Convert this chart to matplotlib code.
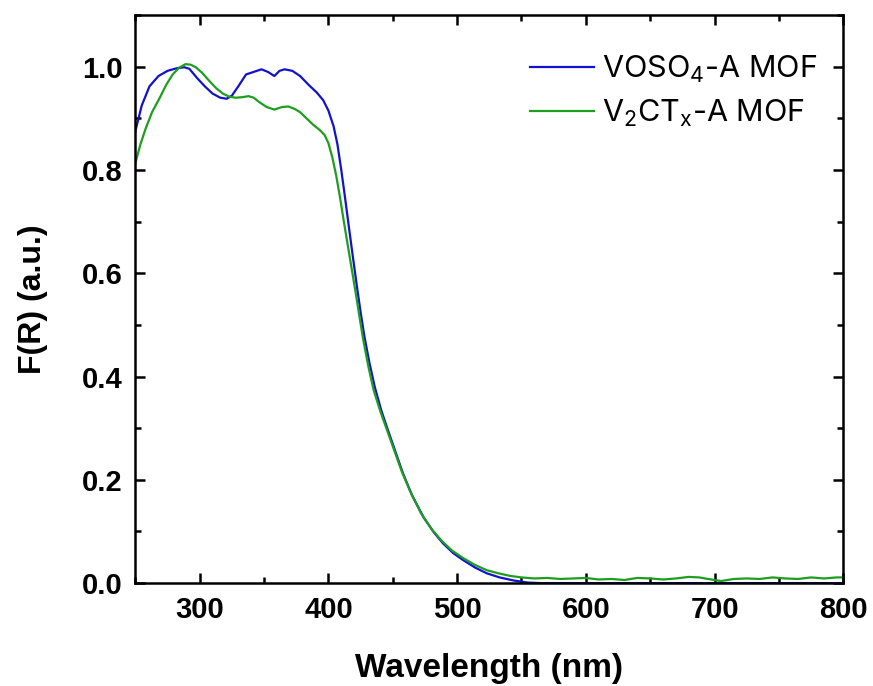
import matplotlib
matplotlib.use("Agg")
import matplotlib.pyplot as plt
from matplotlib.ticker import MultipleLocator

# DRS spectra, Kubelka-Munk F(R), normalised
wl_voso4 = [250, 255, 261, 268, 275, 282, 288, 292, 298, 304, 310, 316, 321, 325,
            330, 336, 342, 348, 353, 358, 362, 366, 372, 378, 385, 391, 396, 400,
            404, 407, 410, 413, 416, 419, 422, 425, 428, 432, 436, 441, 446, 452,
            458, 465, 474, 482, 489, 497, 505, 514, 523, 533, 544, 555, 565, 600,
            700, 800]
fr_voso4 = [0.875, 0.925, 0.962, 0.982, 0.992, 0.997, 0.999, 0.996, 0.978, 0.962,
            0.948, 0.940, 0.938, 0.944, 0.962, 0.985, 0.990, 0.995, 0.990, 0.982,
            0.992, 0.995, 0.992, 0.982, 0.964, 0.950, 0.935, 0.915, 0.885, 0.850,
            0.800, 0.745, 0.688, 0.632, 0.577, 0.525, 0.477, 0.425, 0.380, 0.335,
            0.298, 0.255, 0.212, 0.170, 0.127, 0.098, 0.077, 0.058, 0.044, 0.030,
            0.019, 0.011, 0.005, 0.001, 0.0, 0.0, 0.0, 0.0]

wl_v2ctx = [250, 254, 258, 263, 269, 274, 279, 284, 289, 293, 297, 302, 308, 313,
            318, 323, 328, 333, 338, 342, 346, 352, 358, 364, 369, 374, 378, 383,
            388, 393, 397, 400, 403, 406, 409, 412, 415, 418, 421, 424, 427, 431,
            435, 440, 445, 451, 457, 464, 472, 480, 488, 496, 505, 514, 523, 532,
            541, 550, 560, 570, 580, 590, 600, 610, 620, 630, 640, 650, 660, 670,
            680, 688, 695, 705, 715, 725, 735, 745, 755, 765, 775, 785, 795, 800]
fr_v2ctx = [0.813, 0.850, 0.880, 0.912, 0.940, 0.965, 0.985, 0.998, 1.005, 1.004,
            0.999, 0.988, 0.971, 0.958, 0.948, 0.942, 0.940, 0.941, 0.943, 0.940,
            0.932, 0.922, 0.917, 0.922, 0.923, 0.918, 0.912, 0.900, 0.888, 0.878,
            0.868, 0.852, 0.825, 0.790, 0.747, 0.700, 0.655, 0.610, 0.565, 0.518,
            0.472, 0.420, 0.375, 0.335, 0.300, 0.258, 0.216, 0.175, 0.135, 0.105,
            0.082, 0.063, 0.048, 0.035, 0.025, 0.019, 0.014, 0.011, 0.009, 0.010,
            0.008, 0.009, 0.010, 0.007, 0.008, 0.006, 0.010, 0.009, 0.007, 0.009,
            0.012, 0.011, 0.008, 0.004, 0.008, 0.009, 0.008, 0.011, 0.009, 0.008,
            0.011, 0.009, 0.011, 0.011]

labels = [r'VOSO$_4$-A MOF', r'V$_2$CT$_x$-A MOF']

plt.rcParams['font.family'] = 'Liberation Sans'
plt.rcParams['mathtext.default'] = 'regular'

fig = plt.figure(figsize=(8.73, 6.86), dpi=100)
ax = fig.add_axes([0.155, 0.150, 0.811, 0.828])

ax.plot(wl_voso4, fr_voso4, color='#1212cc', lw=1.6, label=labels[0])
ax.plot(wl_v2ctx, fr_v2ctx, color='#1e9e1e', lw=1.6, label=labels[1])

ax.set_xlim(250, 800)
ax.set_ylim(0, 1.1)
ax.xaxis.set_major_locator(MultipleLocator(100))
ax.xaxis.set_minor_locator(MultipleLocator(50))
ax.yaxis.set_major_locator(MultipleLocator(0.2))
ax.yaxis.set_minor_locator(MultipleLocator(0.1))
ax.yaxis.set_major_formatter(plt.FormatStrFormatter('%.1f'))

for s in ax.spines.values():
    s.set_linewidth(1.8)
ax.tick_params(which='both', direction='in', top=True, right=True, width=1.8)
ax.tick_params(which='major', length=7, labelsize=21, pad=9)
ax.tick_params(which='minor', length=4)
for t in ax.get_xticklabels() + ax.get_yticklabels():
    t.set_fontweight('bold')

ax.set_xlabel('Wavelength (nm)', fontsize=24, fontweight='bold', va='center')
ax.set_ylabel('F(R) (a.u.)', fontsize=23, fontweight='bold', va='center')
ax.xaxis.set_label_coords(0.5, -0.150)
ax.yaxis.set_label_coords(-0.144, 0.5)

leg = ax.legend(loc='upper right', bbox_to_anchor=(0.993, 0.97),
                frameon=False, prop={'family': 'Inter', 'size': 22},
                handlelength=2.1, handletextpad=0.25, labelspacing=0.42,
                borderaxespad=0.3)

fig.savefig('out.png', dpi=100)
